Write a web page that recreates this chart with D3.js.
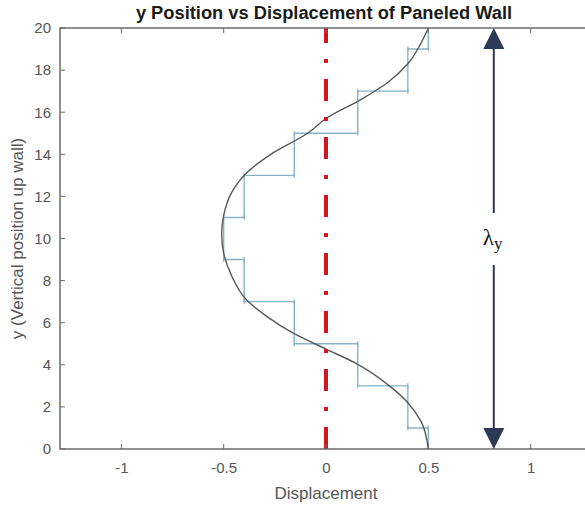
<!DOCTYPE html>
<html>
<head>
<meta charset="utf-8">
<script src="https://cdn.jsdelivr.net/npm/d3@7"></script>
<style>
  html, body { margin: 0; padding: 0; background: #fff; }
  svg { display: block; }
</style>
</head>
<body>
<svg id="chart" width="585" height="506"></svg>
<script>
// Smooth displacement profile along the wall: [y, displacement]
const curveY = [0, 1.3, 2.2, 3.0, 4.1, 4.75, 5.5, 6.3, 7.1, 8.2, 9.3, 10.2, 11.1, 12.2, 13.1, 14.0, 15.0, 15.7, 16.6, 17.4, 18.3, 19.2, 20];
const curveX = [0.5, 0.465, 0.40, 0.31, 0.14, 0.0, -0.16, -0.29, -0.39, -0.46, -0.5, -0.51, -0.5, -0.46, -0.39, -0.27, -0.09, 0.0, 0.17, 0.30, 0.40, 0.46, 0.5];

// Panel (piecewise constant) displacement: each panel spans [start, end] in y
const panelStart = [0, 1, 3, 5, 7, 9, 11, 13, 15, 17, 19];
const panelEnd   = [1, 3, 5, 7, 9, 11, 13, 15, 17, 19, 20];
const panelDisp  = [0.5, 0.40, 0.155, -0.155, -0.40, -0.50, -0.40, -0.155, 0.155, 0.40, 0.5];

// Axis ticks
const xTicks = [-1, -0.5, 0, 0.5, 1];
const yTicks = [0, 2, 4, 6, 8, 10, 12, 14, 16, 18, 20];

// Wavelength marker position (in displacement units)
const lambdaX = 0.82;

const svg = d3.select("#chart");
const x = d3.scaleLinear().domain([-1.3, 1.3]).range([60, 592]);
const y = d3.scaleLinear().domain([0, 20]).range([449, 28]);

const axisColor = "#6b6b6b";
const tickFont = "Liberation Sans, Arial, Helvetica, sans-serif";

// Panel steps
const stepPts = [];
panelDisp.forEach((d, i) => {
  stepPts.push([d, panelStart[i]]);
  stepPts.push([d, panelEnd[i]]);
});
const stepLine = d3.line().x(p => x(p[0])).y(p => y(p[1]));
svg.append("path")
  .attr("d", stepLine(stepPts))
  .attr("fill", "none")
  .attr("stroke", "#86b4cb")
  .attr("stroke-width", 1.4);

// Small end caps on each horizontal transition
const caps = [];
for (let i = 0; i < panelDisp.length - 1; i++) {
  caps.push([panelDisp[i], panelEnd[i]]);
  caps.push([panelDisp[i + 1], panelEnd[i]]);
}
svg.append("g").selectAll("line").data(caps).join("line")
  .attr("x1", d => x(d[0])).attr("x2", d => x(d[0]))
  .attr("y1", d => y(d[1]) - 2.5).attr("y2", d => y(d[1]) + 2.5)
  .attr("stroke", "#86b4cb").attr("stroke-width", 1.2);

// Smooth profile
const pts = curveY.map((v, i) => [curveX[i], v]);
svg.append("path")
  .attr("d", d3.line().x(p => x(p[0])).y(p => y(p[1])).curve(d3.curveMonotoneY)(pts))
  .attr("fill", "none")
  .attr("stroke", "#585858")
  .attr("stroke-width", 1.4);

// Centre line at zero displacement
svg.append("line")
  .attr("x1", x(0)).attr("x2", x(0))
  .attr("y1", y(0)).attr("y2", y(20))
  .attr("stroke", "#d2151c")
  .attr("stroke-width", 4)
  .attr("stroke-dasharray", "22,16,4,16");

// Axes box
const g = svg.append("g");
const axB = d3.axisBottom(x).tickValues(xTicks).tickSize(0).tickPadding(13)
  .tickFormat(d => d === 0 ? "0" : String(d));
const axL = d3.axisLeft(y).tickValues(yTicks).tickSize(0).tickPadding(9);

const gx = g.append("g").attr("transform", `translate(0,${y(0)})`).call(axB);
const gy = g.append("g").attr("transform", `translate(${x(-1.3)},0)`).call(axL);
[gx, gy].forEach(a => {
  a.select(".domain").remove();
  a.selectAll("text").attr("fill", "#555").style("font-family", tickFont).style("font-size", "15px");
});

// Inward tick marks on all four sides
const tl = 5;
g.selectAll(".xtB").data(xTicks).join("line")
  .attr("x1", d => x(d)).attr("x2", d => x(d)).attr("y1", y(0)).attr("y2", y(0) - tl)
  .attr("stroke", axisColor).attr("stroke-width", 1);
g.selectAll(".xtT").data(xTicks).join("line")
  .attr("x1", d => x(d)).attr("x2", d => x(d)).attr("y1", y(20)).attr("y2", y(20) + tl)
  .attr("stroke", axisColor).attr("stroke-width", 1);
g.selectAll(".ytL").data(yTicks).join("line")
  .attr("x1", x(-1.3)).attr("x2", x(-1.3) + tl).attr("y1", d => y(d)).attr("y2", d => y(d))
  .attr("stroke", axisColor).attr("stroke-width", 1);
g.selectAll(".ytR").data(yTicks).join("line")
  .attr("x1", x(1.3)).attr("x2", x(1.3) - tl).attr("y1", d => y(d)).attr("y2", d => y(d))
  .attr("stroke", axisColor).attr("stroke-width", 1);

g.append("rect")
  .attr("x", x(-1.3)).attr("y", y(20))
  .attr("width", x(1.3) - x(-1.3)).attr("height", y(0) - y(20))
  .attr("fill", "none").attr("stroke", axisColor).attr("stroke-width", 1.5);

// Wavelength arrow
const navy = "#2c3a55";
svg.append("line")
  .attr("x1", x(lambdaX)).attr("x2", x(lambdaX))
  .attr("y1", y(20) + 18).attr("y2", y(0) - 18)
  .attr("stroke", navy).attr("stroke-width", 2);
const ax = x(lambdaX);
svg.append("path")
  .attr("d", `M${ax},${y(20)} L${ax - 10.5},${y(20) + 21} L${ax + 10.5},${y(20) + 21} Z`)
  .attr("fill", navy);
svg.append("path")
  .attr("d", `M${ax},${y(0)} L${ax - 10.5},${y(0) - 21} L${ax + 10.5},${y(0) - 21} Z`)
  .attr("fill", navy);
svg.append("rect")
  .attr("x", ax - 16).attr("y", 213).attr("width", 34).attr("height", 52)
  .attr("fill", "#fff");
const lam = svg.append("text")
  .attr("x", ax - 11).attr("y", 245)
  .style("font-family", "Liberation Serif, Times New Roman, serif")
  .style("font-size", "23px")
  .attr("fill", "#111");
lam.append("tspan").text("λ");
lam.append("tspan").text("y").attr("dy", 4).style("font-size", "17px");

// Titles
svg.append("text")
  .attr("x", 324).attr("y", 19)
  .attr("text-anchor", "middle")
  .style("font-family", tickFont).style("font-size", "18.3px").style("font-weight", "bold")
  .attr("fill", "#1a1a1a")
  .text("y Position vs Displacement of Paneled Wall");

svg.append("text")
  .attr("x", 326).attr("y", 499)
  .attr("text-anchor", "middle")
  .style("font-family", tickFont).style("font-size", "17px")
  .attr("fill", "#555")
  .text("Displacement");

svg.append("text")
  .attr("transform", `translate(23,${(y(0) + y(20)) / 2}) rotate(-90)`)
  .attr("text-anchor", "middle")
  .style("font-family", tickFont).style("font-size", "17px")
  .attr("fill", "#555")
  .text("y (Vertical position up wall)");
</script>
</body>
</html>
